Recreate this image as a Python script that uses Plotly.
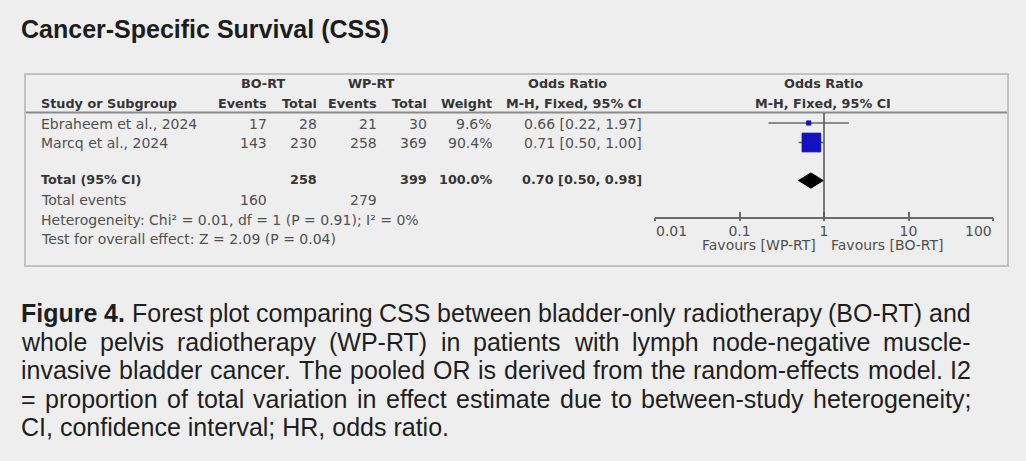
import math
import plotly.graph_objects as go

# ---------------- data ----------------
studies = ["Ebraheem et al., 2024", "Marcq et al., 2024"]
bo_events = [17, 143]
bo_total = [28, 230]
wp_events = [21, 258]
wp_total = [30, 369]
weights = [9.6, 90.4]
or_est = [0.66, 0.71]
ci_low = [0.22, 0.50]
ci_high = [1.97, 1.00]

pooled_est = 0.70
pooled_low = 0.50
pooled_high = 0.98
sum_bo_total = 258
sum_wp_total = 399
sum_bo_events = 160
sum_wp_events = 279
total_weight = 100.0

heterogeneity_text = "Heterogeneity: Chi\u00b2 = 0.01, df = 1 (P = 0.91); I\u00b2 = 0%"
overall_text = "Test for overall effect: Z = 2.09 (P = 0.04)"

tick_values = [0.01, 0.1, 1, 10, 100]
tick_labels = ["0.01", "0.1", "1", "10", "100"]

title_text = "Cancer-Specific Survival (CSS)"
caption_lines = [
    "Figure 4. Forest plot comparing CSS between bladder-only radiotherapy (BO-RT) and",
    "whole pelvis radiotherapy (WP-RT) in patients with lymph node-negative muscle-",
    "invasive bladder cancer. The pooled OR is derived from the random-effects model. I2",
    "= proportion of total variation in effect estimate due to between-study heterogeneity;",
    "CI, confidence interval; HR, odds ratio.",
]

# ---------------- layout helpers ----------------
W, H = 1026, 461


def px(x):
    return x / W


def py(y):
    return 1 - y / H


TABLE_FONT = "DejaVu Sans"
CAP_FONT = "Liberation Sans"
BODY = "#505050"
HEAD = "#353535"
REG_SIZE = 14
BOLD_SIZE = 12.8

annotations = []


def txt(text, x, y, anchor="left", size=REG_SIZE, color=BODY, family=TABLE_FONT, bold=False,
        xref="paper"):
    if bold:
        text = "<b>" + text + "</b>"
    annotations.append(dict(
        text=text, x=(px(x) if xref == "paper" else x), y=py(y), xref=xref, yref="paper",
        xanchor=anchor, yanchor="middle", showarrow=False, borderpad=0,
        font=dict(family=family, size=size, color=color)))


def btxt(text, x, y, anchor="left"):
    txt(text, x, y, anchor, size=BOLD_SIZE, color=HEAD, bold=True)


# Title
txt(title_text, 20, 28.5, size=25, color="#1c1c1c", family=CAP_FONT, bold=True)

# Table headers
btxt("BO-RT", 263, 84, "center")
btxt("WP-RT", 371, 84, "center")
btxt("Odds Ratio", 567, 84, "center")
btxt("Odds Ratio", 823, 84, "center")
btxt("Study or Subgroup", 40, 103, "left")
col_right = dict(bo_e=268, bo_t=318, wp_e=378, wp_t=428, w=493, ci=643)
btxt("Events", col_right["bo_e"], 103, "right")
btxt("Total", col_right["bo_t"], 103, "right")
btxt("Events", col_right["wp_e"], 103, "right")
btxt("Total", col_right["wp_t"], 103, "right")
btxt("Weight", col_right["w"], 103, "right")
btxt("M-H, Fixed, 95% CI", col_right["ci"], 103, "right")
btxt("M-H, Fixed, 95% CI", 823, 103, "center")

row_text_y = [124, 143]
for i, s in enumerate(studies):
    yy = row_text_y[i]
    txt(s, 40, yy)
    txt(str(bo_events[i]), col_right["bo_e"], yy, "right")
    txt(str(bo_total[i]), col_right["bo_t"], yy, "right")
    txt(str(wp_events[i]), col_right["wp_e"], yy, "right")
    txt(str(wp_total[i]), col_right["wp_t"], yy, "right")
    txt(f"{weights[i]:.1f}%", col_right["w"], yy, "right")
    txt(f"{or_est[i]:.2f} [{ci_low[i]:.2f}, {ci_high[i]:.2f}]", col_right["ci"], yy, "right")

btxt("Total (95% CI)", 40, 180)
btxt(str(sum_bo_total), col_right["bo_t"], 180, "right")
btxt(str(sum_wp_total), col_right["wp_t"], 180, "right")
btxt(f"{total_weight:.1f}%", col_right["w"], 180, "right")
btxt(f"{pooled_est:.2f} [{pooled_low:.2f}, {pooled_high:.2f}]", col_right["ci"], 180, "right")
txt("Total events", 40, 200)
txt(str(sum_bo_events), col_right["bo_e"], 200, "right")
txt(str(sum_wp_events), col_right["wp_e"], 200, "right")
txt(heterogeneity_text, 40, 220)
txt(overall_text, 40, 239)

txt("Favours [WP-RT]", 817, 245, "right")
txt("Favours [BO-RT]", 830, 245, "left")

# end tick labels are aligned inward (first left-aligned, last right-aligned);
# annotations on a log axis take log10 positions
txt(tick_labels[0], math.log10(tick_values[0]), 230.5, "left", xref="x")
txt(tick_labels[-1], math.log10(tick_values[-1]), 230.5, "right", xref="x")
axis_ticktext = [""] + tick_labels[1:-1] + [""]

# ---------------- justified caption ----------------
AR = {
    'a': 556, 'b': 556, 'c': 500, 'd': 556, 'e': 556, 'f': 278, 'g': 556, 'h': 556, 'i': 222, 'j': 222,
    'k': 500, 'l': 222, 'm': 833, 'n': 556, 'o': 556, 'p': 556, 'q': 556, 'r': 333, 's': 500, 't': 278,
    'u': 556, 'v': 500, 'w': 722, 'x': 500, 'y': 500, 'z': 500,
    'A': 667, 'B': 667, 'C': 722, 'D': 722, 'E': 667, 'F': 611, 'G': 778, 'H': 722, 'I': 278, 'J': 500,
    'K': 667, 'L': 556, 'M': 833, 'N': 722, 'O': 778, 'P': 667, 'Q': 778, 'R': 722, 'S': 667, 'T': 611,
    'U': 722, 'V': 667, 'W': 944, 'X': 667, 'Y': 667, 'Z': 611,
    ' ': 278, '.': 278, ',': 278, ';': 278, ':': 278, '-': 333, '(': 333, ')': 333, '=': 584,
}
ARB = {
    'a': 556, 'b': 611, 'c': 556, 'd': 611, 'e': 556, 'f': 333, 'g': 611, 'h': 611, 'i': 278, 'j': 278,
    'k': 556, 'l': 278, 'm': 889, 'n': 611, 'o': 611, 'p': 611, 'q': 611, 'r': 389, 's': 556, 't': 333,
    'u': 611, 'v': 556, 'w': 778, 'x': 556, 'y': 556, 'z': 500, 'F': 611, ' ': 278, '.': 278,
}
CAP_SIZE = 25


def word_w(word, bold):
    table = ARB if bold else AR
    return sum(table.get(ch, 556) for ch in word) * CAP_SIZE / 1000.0


cap_y = [313, 341.5, 370, 398.5, 427]
cap_x0, cap_x1 = 20, 970
for li, line in enumerate(caption_lines):
    words = line.split(" ")
    bolds = [li == 0 and wi < 2 for wi in range(len(words))]
    justify = li < len(caption_lines) - 1
    if justify:
        nat = sum(word_w(w, b) for w, b in zip(words, bolds))
        gap = (cap_x1 - cap_x0 - nat) / (len(words) - 1)
        x = cap_x0
        for w, b in zip(words, bolds):
            txt(w, x, cap_y[li], "left", size=CAP_SIZE, color="#1e1e1e", family=CAP_FONT, bold=b)
            x += word_w(w, b) + gap
    else:
        txt(line, cap_x0, cap_y[li], "left", size=CAP_SIZE, color="#1e1e1e", family=CAP_FONT)

# ---------------- forest plot ----------------
row_index = [1, 2]
pooled_row = 3.95
y_top_px, y_bot_px = 113, 217
y_range = [5.82, 0.487]
x_dom = [px(655), px(993)]
y_dom = [py(y_bot_px), py(y_top_px)]

fig = go.Figure()

# confidence interval lines (drawn first, beneath the squares)
fig.add_trace(go.Scatter(
    x=or_est, y=row_index, mode="markers",
    marker=dict(size=1, opacity=0),
    error_x=dict(type="data", symmetric=False,
                 array=[h - e for h, e in zip(ci_high, or_est)],
                 arrayminus=[e - l for e, l in zip(or_est, ci_low)],
                 color="#6a6a6a", thickness=1.6, width=0),
    hoverinfo="skip"))

marker_sizes = [2.5 + 0.18 * w for w in weights]
fig.add_trace(go.Scatter(
    x=or_est, y=row_index, mode="markers",
    marker=dict(symbol="square", size=marker_sizes, color="#1212c4", opacity=1,
                line=dict(width=0.8, color="#0a0a90")),
    hoverinfo="skip"))

dh = 0.39
fig.add_trace(go.Scatter(
    x=[pooled_low, pooled_est, pooled_high, pooled_est, pooled_low],
    y=[pooled_row, pooled_row - dh, pooled_row, pooled_row + dh, pooled_row],
    mode="lines", fill="toself", fillcolor="#000000",
    line=dict(color="#000000", width=1), hoverinfo="skip"))

# invisible trace for the second (outward tick) axis
fig.add_trace(go.Scatter(x=[1], y=[1], xaxis="x2", yaxis="y", mode="markers",
                         marker=dict(opacity=0), hoverinfo="skip"))

axis_common = dict(type="log", range=[-2, 2], domain=x_dom, tickvals=tick_values,
                   fixedrange=True, showgrid=False, zeroline=False, automargin=False)
fig.update_layout(
    width=W, height=H, autosize=False,
    margin=dict(l=0, r=0, t=0, b=0, pad=0, autoexpand=False),
    paper_bgcolor="#eeeeee", plot_bgcolor="rgba(0,0,0,0)",
    showlegend=False,
    xaxis=dict(**axis_common, ticktext=axis_ticktext, anchor="y",
               showline=True, linecolor="#6a6a6a", linewidth=1.6,
               ticks="inside", ticklen=5, tickwidth=1.6, tickcolor="#6a6a6a",
               tickfont=dict(family=TABLE_FONT, size=REG_SIZE, color=BODY)),
    xaxis2=dict(**axis_common, overlaying="x", anchor="y", side="bottom",
                showline=False, showticklabels=False,
                ticks="outside", ticklen=3, tickwidth=1.6, tickcolor="#6a6a6a"),
    yaxis=dict(domain=y_dom, range=y_range, visible=False, fixedrange=True, automargin=False),
    annotations=annotations,
    shapes=[
        dict(type="rect", xref="paper", yref="paper", x0=px(25), x1=px(1008),
             y0=py(266), y1=py(74), line=dict(color="#c2c2c2", width=2),
             fillcolor="rgba(0,0,0,0)", layer="below"),
        dict(type="line", xref="paper", yref="paper", x0=px(26), x1=px(1007),
             y0=py(112.5), y1=py(112.5), line=dict(color="#8a8a8a", width=1.8)),
        dict(type="line", xref="x", yref="paper", x0=1, x1=1,
             y0=py(y_bot_px), y1=py(y_top_px), line=dict(color="#5a5a5a", width=1.6)),
    ],
)

fig.write_html("out.html",
               post_script="document.body.style.margin='0';document.body.style.overflow='hidden';")
